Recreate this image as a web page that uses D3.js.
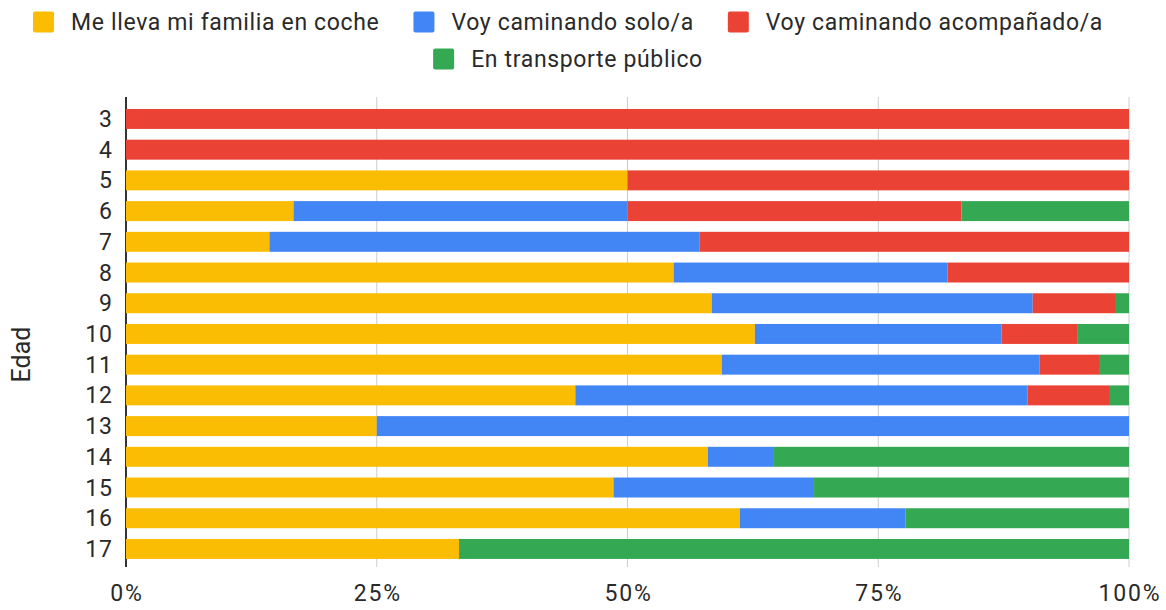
<!DOCTYPE html>
<html lang="es">
<head>
  <meta charset="UTF-8">
  <title>Edad - transporte</title>
  <script src="https://d3js.org/d3.v7.min.js"></script>
  <style>
    body { margin: 0; background: #fff; }
    text { font-family: Roboto, Arial, sans-serif; fill: #2a2a2a; }
  </style>
</head>
<body>
  <div id="chart"></div>
  <script>
    // categories (age) and series, values in % of each row
    const ages = ['3', '4', '5', '6', '7', '8', '9', '10', '11', '12', '13', '14', '15', '16', '17'];
    const seriesNames = ['Me lleva mi familia en coche', 'Voy caminando solo/a', 'Voy caminando acompañado/a', 'En transporte público'];
    const seriesColors = ['#fbbc04', '#4285f4', '#ea4335', '#34a853'];

    const coche      = [0, 0, 50, 16.7, 14.3, 54.6, 58.4, 62.7, 59.4, 44.8, 25, 58.0, 48.6, 61.2, 33.2];
    const solo       = [0, 0, 0, 33.3, 42.9, 27.3, 32.0, 24.6, 31.7, 45.1, 75, 6.6, 20.0, 16.5, 0];
    const acompanado = [100, 100, 50, 33.3, 42.8, 18.1, 8.3, 7.6, 6.0, 8.2, 0, 0, 0, 0, 0];
    const publico    = [0, 0, 0, 16.7, 0, 0, 1.3, 5.1, 2.9, 1.9, 0, 35.4, 31.4, 22.3, 66.8];
    const xTicks = [0, 0.25, 0.5, 0.75, 1];

    const W = 1166, H = 610;
    const plotLeft = 126, plotRight = 1129, plotTop = 97, plotBottom = 567;

    const svg = d3.select('#chart').append('svg')
      .attr('width', W).attr('height', H);

    const rows = ages.map((a, i) => {
      const vals = [coche[i], solo[i], acompanado[i], publico[i]];
      const total = d3.sum(vals);
      const r = { age: a };
      seriesNames.forEach((s, k) => r[s] = vals[k] / total);
      return r;
    });

    const x = d3.scaleLinear().domain([0, 1]).range([plotLeft, plotRight]);
    const y = d3.scaleBand().domain(ages).range([103.6, 564.3])
      .paddingInner(0.35).paddingOuter(0.175);

    // gridlines
    svg.append('g').selectAll('line')
      .data(xTicks.slice(1))
      .enter().append('line')
      .attr('x1', d => x(d)).attr('x2', d => x(d))
      .attr('y1', plotTop).attr('y2', plotBottom)
      .attr('stroke', '#ccc').attr('stroke-width', 1);

    // baseline
    svg.append('line')
      .attr('x1', x(0)).attr('x2', x(0))
      .attr('y1', plotTop).attr('y2', plotBottom)
      .attr('stroke', '#333').attr('stroke-width', 2);

    const stack = d3.stack().keys(seriesNames)(rows);

    svg.append('g').selectAll('g')
      .data(stack)
      .enter().append('g')
      .attr('fill', (d, i) => seriesColors[i])
      .selectAll('rect')
      .data(d => d.filter(p => p[1] - p[0] > 0))
      .enter().append('rect')
      .attr('x', d => x(d[0]))
      .attr('width', d => x(d[1]) - x(d[0]))
      .attr('y', d => y(d.data.age))
      .attr('height', y.bandwidth());

    // y labels
    svg.append('g').selectAll('text')
      .data(ages)
      .enter().append('text')
      .attr('x', 113)
      .attr('y', d => y(d) + y.bandwidth() / 2)
      .attr('dy', '0.35em')
      .attr('text-anchor', 'end')
      .style('font-size', '23px')
      .style('letter-spacing', '1px')
      .text(d => d);

    // x labels
    svg.append('g').selectAll('text')
      .data(xTicks)
      .enter().append('text')
      .attr('x', d => x(d) + 1)
      .attr('y', 593)
      .attr('dy', '0.35em')
      .attr('text-anchor', 'middle')
      .style('font-size', '23px')
      .style('letter-spacing', '1.8px')
      .text(d3.format('.0%'));

    // axis title
    svg.append('text')
      .attr('transform', 'translate(21,354.5) rotate(-90)')
      .attr('dy', '0.35em')
      .attr('text-anchor', 'middle')
      .style('font-size', '25px')
      .text('Edad');

    // legend: two centered rows
    const legendRows = [[0, 1, 2], [3]];
    const rowY = [22, 59];
    const sw = 21, gapText = 17, gapItem = 34, cx = 568;
    legendRows.forEach((idxs, r) => {
      const g = svg.append('g');
      const items = idxs.map(i => {
        const it = g.append('g');
        it.append('rect').attr('width', sw).attr('height', sw)
          .attr('y', rowY[r] - sw / 2).attr('rx', 2)
          .attr('fill', seriesColors[i]);
        const t = it.append('text')
          .attr('x', sw + gapText).attr('y', rowY[r]).attr('dy', '0.35em')
          .style('font-size', '23px')
          .style('letter-spacing', '0.65px')
          .text(seriesNames[i]);
        return { it, w: sw + gapText + t.node().getComputedTextLength() };
      });
      const total = d3.sum(items, d => d.w) + gapItem * (items.length - 1);
      let cur = cx - total / 2;
      items.forEach(d => {
        d.it.attr('transform', `translate(${cur},0)`);
        cur += d.w + gapItem;
      });
    });
  </script>
</body>
</html>
